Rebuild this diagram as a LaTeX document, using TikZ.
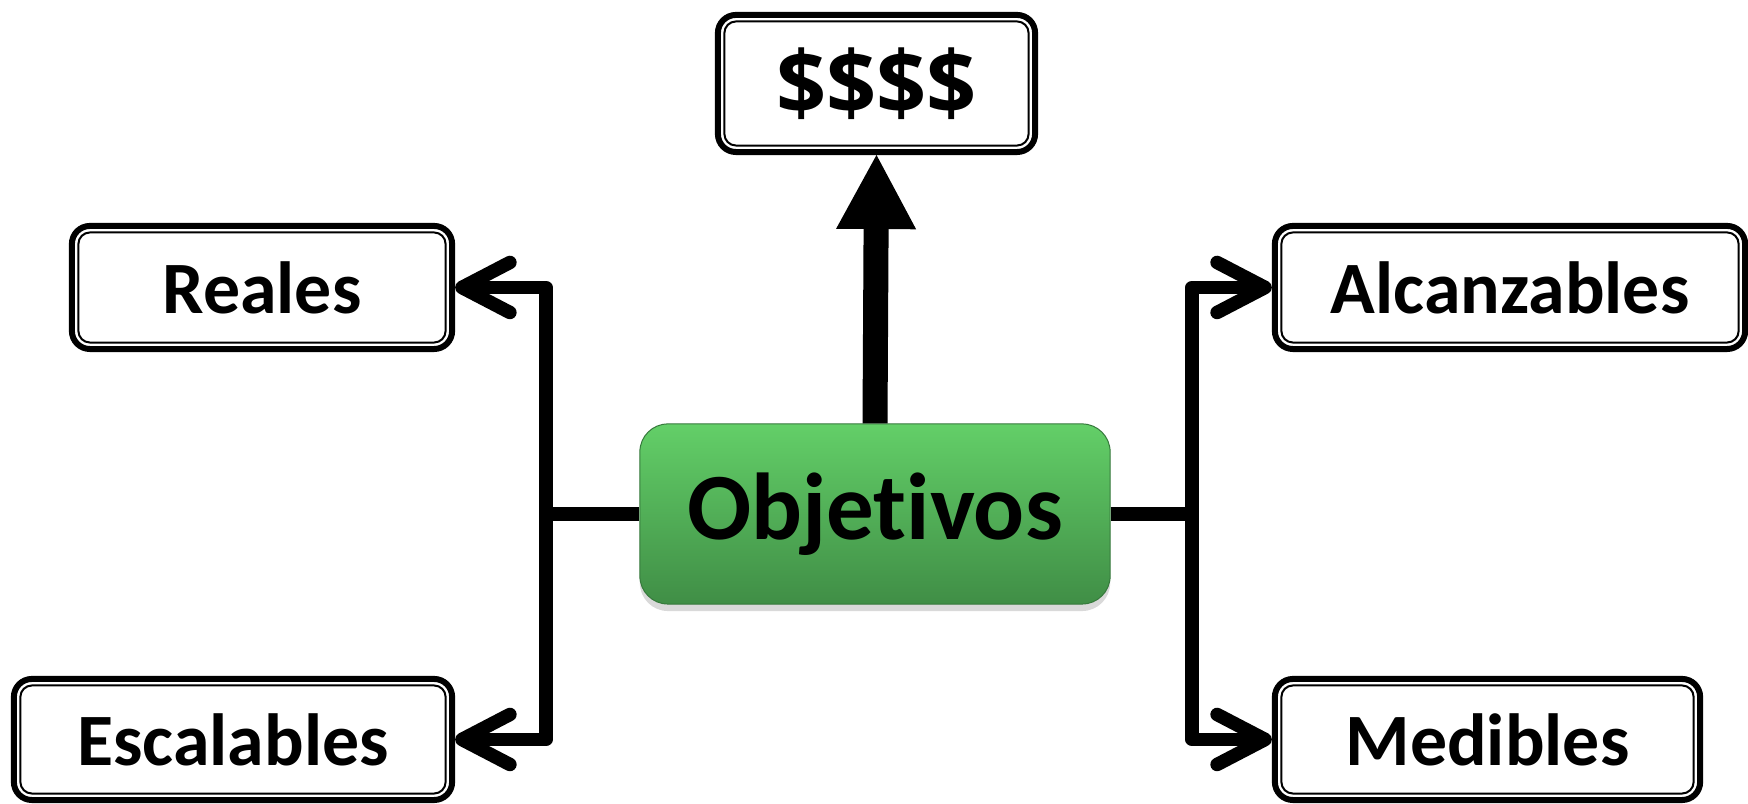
\documentclass[tikz,border=0pt]{standalone}
\usepackage{fontspec}
\setmainfont{Carlito}[Ligatures=NoCommon]
\newfontfamily\dollarfont{Open Sans}
\usetikzlibrary{arrows.meta,shadows}

\definecolor{verdeclaro}{RGB}{99,207,104}
\definecolor{verdeoscuro}{RGB}{64,142,70}

\begin{document}
\begin{tikzpicture}[x=0.01cm,y=0.01cm,
  leaf/.style={draw, line width=0.06cm, rounded corners=0.18cm, fill=white,
    inner sep=0pt, font=\fontsize{21}{25}\selectfont\bfseries,
    path picture={\draw[line width=0.02cm, rounded corners=0.115cm]
      ([shift={(0.065cm,0.065cm)}]path picture bounding box.south west) rectangle
      ([shift={(-0.065cm,-0.065cm)}]path picture bounding box.north east);}},
  root/.style={draw=verdeoscuro!85!black, line width=0.01cm, rounded corners=0.28cm,
    top color=verdeclaro, bottom color=verdeoscuro, inner sep=0pt,
    minimum width=4.70cm, minimum height=1.80cm,
    drop shadow={shadow xshift=0pt, shadow yshift=-0.07cm, opacity=0.3},
    font=\fontsize{27}{32}\selectfont\bfseries},
  branch/.style={line width=0.135cm, line join=round},
  tip/.style={-{Straight Barb[length=0.48cm,width=0.50cm,round]}}]
  \useasboundingbox (0,0) rectangle (1748,804);

  % center and leaves
  \node[root] (obj) at (875,290) {Objetivos};
  \node[leaf, minimum width=3.17cm, minimum height=1.37cm,
    font=\dollarfont\fontsize{25}{30}\selectfont\bfseries] (money) at (876.5,720.5) {\$\$\$\$};
  \node[leaf, minimum width=3.80cm, minimum height=1.23cm] (reales) at (262,516.5) {Reales};
  \node[leaf, minimum width=4.38cm, minimum height=1.21cm] (escal) at (233,64.5) {Escalables};
  \node[leaf, minimum width=4.70cm, minimum height=1.23cm] (alcan) at (1510,516.5) {Alcanzables};
  \node[leaf, minimum width=4.25cm, minimum height=1.21cm] (medib) at (1487.5,64.5) {Medibles};

  % junctions
  \coordinate (lj) at (546,290);
  \coordinate (rj) at (1192,290);

  % connectors
  \draw[line width=0.25cm, -{Triangle[length=0.74cm,width=0.8cm,line width=0pt]}]
    (obj.north) -- (money.south);
  \draw[branch] (obj.west) -- ([xshift=-0.065cm]lj);
  \draw[branch, tip] (lj) |- (reales.east);
  \draw[branch, tip] (lj) |- (escal.east);
  \draw[branch] (obj.east) -- ([xshift=0.065cm]rj);
  \draw[branch, tip] (rj) |- (alcan.west);
  \draw[branch, tip] (rj) |- (medib.west);
\end{tikzpicture}
\end{document}
